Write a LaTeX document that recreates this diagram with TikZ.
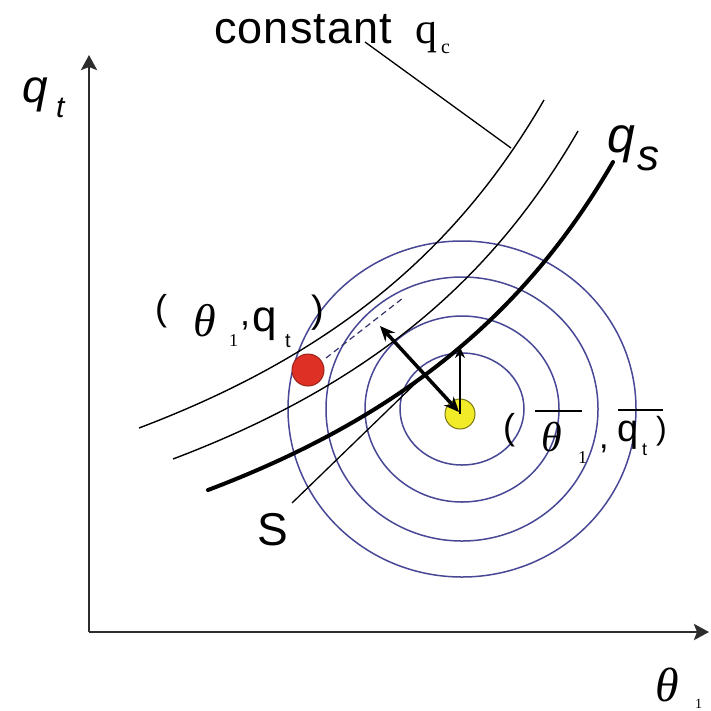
\documentclass[tikz,border=0pt]{standalone}
\usepackage{fontspec}
\newfontfamily\arialf{Liberation Sans}
\newfontfamily\arialls[LetterSpace=2.5]{Liberation Sans}
\newfontfamily\tnrf{Liberation Serif}
\usetikzlibrary{arrows.meta}
\definecolor{axisgray}{RGB}{45,45,45}
\definecolor{ringblue}{RGB}{72,72,150}
\definecolor{dotred}{RGB}{222,48,36}
\definecolor{dotyellow}{RGB}{242,236,40}
\newcommand\qcurve[1]{\draw[#1] plot[domain=139:544, samples=80, smooth] (\x, {716.3-2193.98/((900-\x)/100)});}
\begin{document}
\begin{tikzpicture}[x=1pt,y=-1pt,
  txt/.style={inner sep=0pt, anchor=base west},
  axisline/.style={line width=2.8pt, draw=axisgray, -{Stealth[length=15pt,width=16pt,inset=3pt]}},
  ring/.style={draw=ringblue, line width=1.5pt},
  thincurve/.style={line width=1.4pt, black},
  thickcurve/.style={line width=4pt, black, line cap=round},
  thinline/.style={line width=1.3pt, black},
  dotstyle/.style={circle, inner sep=0pt, line width=1pt}]
\useasboundingbox (0,0) rectangle (711,710);
\fill[white] (0,0) rectangle (711,710);

% axes
\coordinate (O) at (89,632);
\coordinate (ytip) at (89,55);
\coordinate (xtip) at (709,632);
\draw[axisline] (O) -- (ytip);
\draw[axisline] (O) -- (xtip);

% concentric rings
\coordinate (ctr) at (462,409);
\draw[ring] (ctr) ellipse[x radius=62pt, y radius=56pt];
\draw[ring] (ctr) ellipse[x radius=97pt, y radius=93pt];
\draw[ring] (ctr) ellipse[x radius=136pt, y radius=132pt];
\draw[ring] (ctr) ellipse[x radius=174pt, y radius=168pt];

% constant q_c curves
\qcurve{thincurve}
\qcurve{thincurve, shift={(34,31)}}
\qcurve{thickcurve, shift={(69,62)}}

% leader line and S line
\coordinate (lead1) at (365,42);
\coordinate (lead2) at (511,148);
\draw[thinline] (lead1) -- (lead2);
\coordinate (s1) at (292,503);
\coordinate (s2) at (420,379);
\draw[thinline] (s1) -- (s2);

% dots
\node[dotstyle, fill=dotred, draw=dotred!70!black, minimum size=32pt] (red) at (308,370) {};
\node[dotstyle, fill=dotyellow, draw=dotyellow!50!black, minimum size=30pt] (yel) at (460,414) {};

% dashed line
\coordinate (d1) at (326,358);
\coordinate (d2) at (403,298);
\draw[line width=1.2pt, draw=ringblue!70!black, dash pattern=on 6pt off 4pt] (d1) -- (d2);

% arrows
\coordinate (a1) at (380,326);
\coordinate (a2) at (459,412);
\draw[line width=3.5pt, {Stealth[length=15pt,width=13pt]}-{Stealth[length=15pt,width=13pt]}] (a2) -- (a1);
\coordinate (b1) at (460,347);
\draw[line width=1.5pt, -{Stealth[length=11pt,width=10pt]}] (yel.center) -- (b1);

% labels
\node[txt, font=\arialls\fontsize{45}{45}\selectfont] (const) at (214,43) {constant};
\node[txt, font=\tnrf\fontsize{44}{44}\selectfont] (qc) at (415,43) {q};
\node[txt, font=\tnrf\fontsize{20}{20}\selectfont] (qcsub) at (441,53) {c};

\node[txt, font=\arialf\itshape\fontsize{46}{46}\selectfont] (qtq) at (22,102) {q};
\node[txt, font=\arialf\itshape\fontsize{30}{30}\selectfont] (qtt) at (56,117) {t};

\node[txt, font=\arialf\itshape\fontsize{50}{50}\selectfont] (qsq) at (607,152) {q};
\node[txt, font=\arialf\itshape\fontsize{44}{44}\selectfont] (qss) at (637,170) {s};

\node[txt, font=\arialf\fontsize{46}{46}\selectfont] (S) at (257,545) {S};

\node[txt, font=\tnrf\itshape\fontsize{48}{48}\selectfont] (thx) at (655,701) {θ};
\node[txt, font=\tnrf\fontsize{14}{14}\selectfont] (thx1) at (695,708) {1};

% ( theta_1, q_t )
\node[txt, font=\arialf\fontsize{36}{36}\selectfont] (lpa) at (155,320) {(};
\node[txt, font=\tnrf\itshape\fontsize{46}{46}\selectfont] (lth) at (193,336) {θ};
\node[txt, font=\tnrf\fontsize{18}{18}\selectfont] (l1) at (229,346) {1};
\node[txt, font=\arialf\fontsize{36}{36}\selectfont] (lcm) at (240,325) {,};
\node[txt, font=\arialf\fontsize{44}{44}\selectfont] (lq) at (252,331) {q};
\node[txt, font=\arialf\fontsize{20}{20}\selectfont] (lt) at (285,347) {t};
\node[txt, font=\arialf\fontsize{38}{38}\selectfont] (lpb) at (311,322) {)};

% ( bar theta_1, bar q_t )
\node[txt, font=\arialf\fontsize{36}{36}\selectfont] (rpa) at (503,439) {(};
\node[txt, font=\tnrf\itshape\fontsize{42}{42}\selectfont] (rth) at (541,451) {θ};
\node[txt, font=\tnrf\fontsize{18}{18}\selectfont] (r1) at (578,463) {1};
\node[txt, font=\arialf\fontsize{34}{34}\selectfont] (rcm) at (599,448) {,};
\node[txt, font=\arialf\fontsize{38}{38}\selectfont] (rq) at (617,441) {q};
\node[txt, font=\arialf\fontsize{18}{18}\selectfont] (rt) at (642,455) {t};
\node[txt, font=\arialf\fontsize{32}{32}\selectfont] (rpb) at (656,439) {)};
\draw[line width=1.5pt] (535,411) -- (582,411);
\draw[line width=1.5pt] (618,410) -- (663,410);
\end{tikzpicture}
\end{document}
